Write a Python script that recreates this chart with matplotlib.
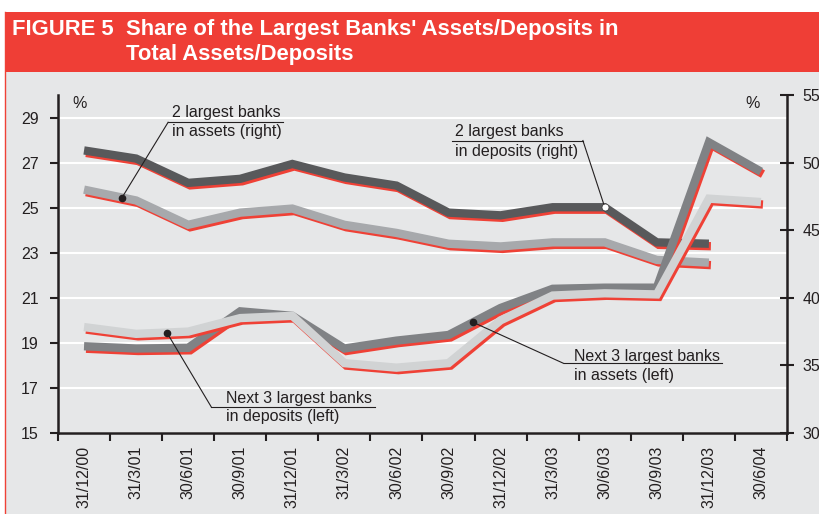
import numpy as np
import matplotlib
matplotlib.use("Agg")
import matplotlib.pyplot as plt
from matplotlib import transforms
from matplotlib.patches import Rectangle
from matplotlib.lines import Line2D

plt.rcParams['font.family'] = ['Liberation Sans', 'DejaVu Sans']

# quarter-end dates
dates = ['31/12/00', '31/3/01', '30/6/01', '30/9/01', '31/12/01', '31/3/02',
         '30/6/02', '30/9/02', '31/12/02', '31/3/03', '30/6/03', '30/9/03',
         '31/12/03', '30/6/04']

# right axis, %
top2_deposits = [50.9, 50.3, 48.5, 48.8, 49.9, 48.9, 48.3, 46.3, 46.1, 46.7,
                 46.7, 44.1, 44.0, np.nan]
top2_assets = [48.0, 47.2, 45.4, 46.3, 46.6, 45.4, 44.8, 44.0, 43.8, 44.1,
               44.1, 42.8, 42.6, np.nan]

# left axis, %
next3_assets = [18.85, 18.75, 18.78, 20.4, 20.2, 18.75, 19.1, 19.35, 20.55,
                21.4, 21.45, 21.45, 27.9, 26.6]
next3_deposits = [19.7, 19.4, 19.5, 20.1, 20.2, 18.1, 17.9, 18.1, 20.0, 21.1,
                  21.2, 21.15, 25.4, 25.25]

RED = '#ef4136'
BG = '#e6e7e8'
INK = '#231f20'

fig = plt.figure(figsize=(8.19, 5.14), dpi=100)
fig.patch.set_facecolor('white')

W, H = 819, 514
# panel, title band and red frame
fig.patches.append(Rectangle((5 / W, 0), 1, (H - 72) / H, transform=fig.transFigure,
                             facecolor=BG, edgecolor='none', zorder=-2))
fig.patches.append(Rectangle((5 / W, (H - 72) / H), 1, 60 / H, transform=fig.transFigure,
                             facecolor='#ef3e36', edgecolor='none', zorder=-2))
fig.lines.append(Line2D([5 / W, 5 / W], [0, (H - 12) / H], transform=fig.transFigure,
                        color=RED, lw=1, zorder=-1))

title_kw = dict(color='white', fontsize=15.8, fontweight='bold', va='baseline')
fig.text(12 / W, (H - 35) / H, 'FIGURE 5', **title_kw)
fig.text(126 / W, (H - 35) / H, "Share of the Largest Banks' Assets/Deposits in",
         **title_kw)
fig.text(126 / W, (H - 60) / H, 'Total Assets/Deposits', **title_kw)

ax = fig.add_axes([58 / W, 81 / H, 729 / W, 338 / H])
ax.set_facecolor(BG)
ax2 = ax.twinx()

x = np.arange(len(dates))
ax.set_xlim(-0.5, len(dates) - 0.5)
ax.set_ylim(15, 30)
ax2.set_ylim(30, 55)

ax.set_yticks(range(15, 30, 2))
ax2.set_yticks(range(30, 56, 5))
ax.set_xticks(x)
ax.set_xticklabels(dates, rotation=90)
ax.set_xticks(np.arange(-0.5, len(dates)), minor=True)

ax.tick_params(axis='y', direction='out', length=6, width=1.5, color=INK,
               labelsize=11.5, labelcolor=INK, pad=8)
ax.tick_params(axis='x', which='major', length=0, labelsize=11.5,
               labelcolor=INK, pad=9)
ax.tick_params(axis='x', which='minor', direction='out', length=6, width=1.5,
               color=INK)
ax2.tick_params(axis='y', direction='inout', length=10, width=1.5, color=INK,
                labelsize=11.5, labelcolor=INK, pad=6)

for s in ['top', 'right']:
    ax.spines[s].set_visible(False)
for s in ['top', 'left', 'bottom']:
    ax2.spines[s].set_visible(False)
for sp in [ax.spines['left'], ax.spines['bottom'], ax2.spines['right']]:
    sp.set_linewidth(1.8)
    sp.set_color(INK)

ax.grid(axis='y', color='white', lw=1.5)
ax.set_axisbelow(True)


def band(yvals, color, trans):
    # thick grey line with a red drop shadow
    shadow = transforms.offset_copy(trans, fig=fig, x=2, y=-2.5, units='dots')
    kw = dict(lw=6, solid_capstyle='butt', solid_joinstyle='miter')
    ax.plot(x, yvals, color=RED, transform=shadow, zorder=3, **kw)
    ax.plot(x, yvals, color=color, transform=trans, zorder=3, **kw)


band(top2_assets, '#a7a9ac', ax2.transData)
band(top2_deposits, '#58595b', ax2.transData)
band(next3_assets, '#808285', ax.transData)
band(next3_deposits, '#d1d3d4', ax.transData)


def to_left(xv, yv):
    p = ax2.transData.transform((xv, yv))
    return ax.transData.inverted().transform(p)


def label(lines, tx, ty, rule, elbow, dot, white=False):
    ax.text(tx, ty[0], lines[0], fontsize=11.5, color=INK, va='center', zorder=5)
    ax.text(tx, ty[1], lines[1], fontsize=11.5, color=INK, va='center', zorder=5)
    ax.plot(rule, [elbow[1], elbow[1]], color=INK, lw=0.8, zorder=5)
    ax.plot([elbow[0], dot[0]], [elbow[1], dot[1]], color=INK, lw=0.8, zorder=5)
    if white:
        ax.plot(*dot, 'o', ms=5, mfc='white', mec=INK, mew=0.4, zorder=6)
    else:
        ax.plot(*dot, 'o', ms=4.5, color=INK, zorder=6)


d1 = to_left(0.73, np.interp(0.73, x, top2_assets))
label(['2 largest banks', 'in assets (right)'], 1.69, [29.22, 28.39],
      [1.615, 3.83], (1.615, 28.79), d1)

d2 = to_left(10, top2_deposits[10])
label(['2 largest banks', 'in deposits (right)'], 7.12, [28.39, 27.51],
      [7.06, 9.58], (9.58, 27.98), d2, white=True)

d3 = (7.47, np.interp(7.47, x, next3_assets))
label(['Next 3 largest banks', 'in assets (left)'], 9.4, [18.41, 17.57],
      [9.21, 12.26], (9.21, 18.09), d3)

d4 = (1.59, np.interp(1.59, x, next3_deposits))
label(['Next 3 largest banks', 'in deposits (left)'], 2.73, [16.54, 15.72],
      [2.44, 5.58], (2.44, 16.17), d4)

ax.text(0.03, 0.976, '%', transform=ax.transAxes, fontsize=11.5, color=INK,
        ha='center', va='center')
ax.text(0.953, 0.976, '%', transform=ax.transAxes, fontsize=11.5, color=INK,
        ha='center', va='center')

fig.savefig('out.png', dpi=100, facecolor=fig.get_facecolor())
